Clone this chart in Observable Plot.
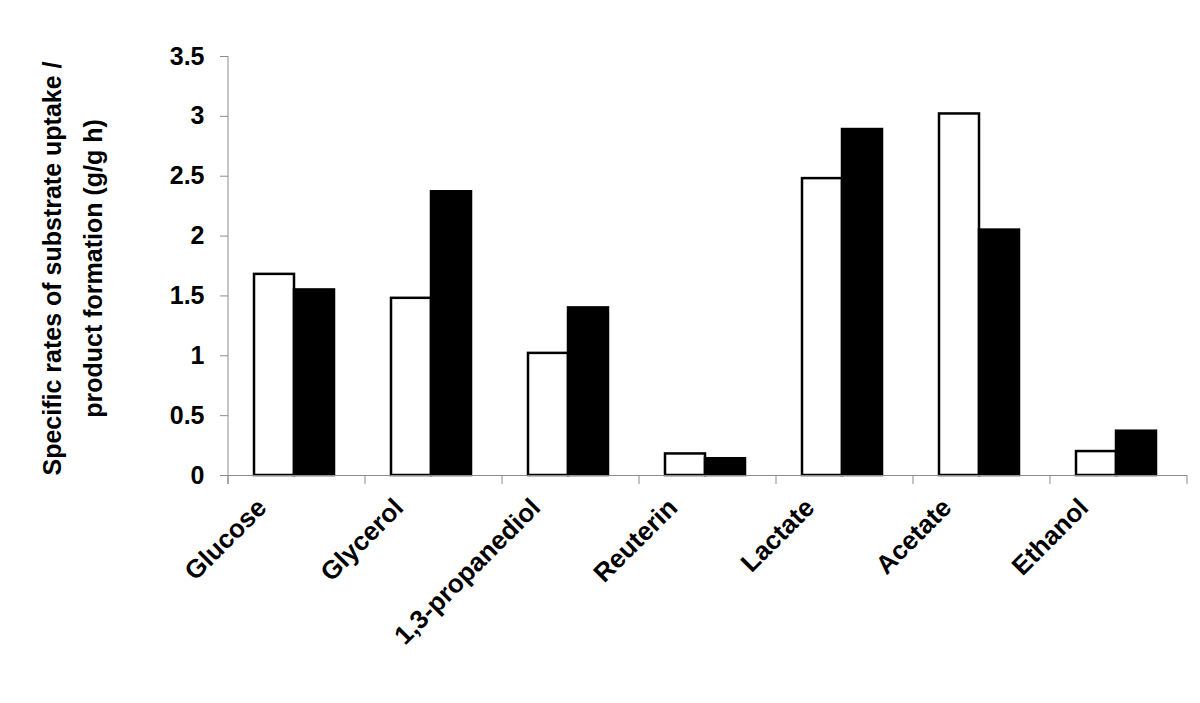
<!DOCTYPE html>
<html>
<head>
<meta charset="utf-8">
<script src="https://cdn.jsdelivr.net/npm/d3@7"></script>
<script src="https://cdn.jsdelivr.net/npm/@observablehq/plot@0.6"></script>
<style>
  html, body { margin: 0; padding: 0; background: #fff; }
  #chart svg { font-family: "Liberation Sans", Arial, sans-serif; }
  #chart svg text { font-weight: bold; fill: #000; }
</style>
</head>
<body>
<div id="chart"></div>
<script>
// ---- data ----
const categories = ["Glucose", "Glycerol", "1,3-propanediol", "Reuterin", "Lactate", "Acetate", "Ethanol"];
const seriesNames = ["Series 1", "Series 2"];
const series1 = [1.68, 1.48, 1.02, 0.18, 2.48, 3.02, 0.20];
const series2 = [1.55, 2.37, 1.40, 0.14, 2.89, 2.05, 0.37];
const seriesFill = ["#ffffff", "#000000"];
const yTicks = [0, 0.5, 1, 1.5, 2, 2.5, 3, 3.5];
const yLabelLines = ["Specific rates of substrate uptake /", "product formation (g/g h)"];

const rows = [];
categories.forEach((c, i) => {
  rows.push({cat: c, series: seriesNames[0], value: series1[i]});
  rows.push({cat: c, series: seriesNames[1], value: series2[i]});
});

const W = 1200, H = 703;
const mL = 227, mR = 12, mT = 56, mB = 228;
const axisGray = "#8c8c8c";

const plot = Plot.plot({
  width: W,
  height: H,
  marginLeft: mL,
  marginRight: mR,
  marginTop: mT,
  marginBottom: mB,
  style: {fontSize: "25px", fontFamily: "Liberation Sans, Arial, sans-serif", background: "#fff"},
  fx: {domain: categories, padding: 0, label: null},
  x: {domain: seriesNames, paddingInner: 0, paddingOuter: 0.68, align: 0.45, axis: null},
  y: {domain: [0, 3.5], axis: null},
  color: {domain: seriesNames, range: seriesFill},
  marks: [
    Plot.axisY({
      ticks: yTicks,
      tickFormat: d => String(d),
      tickSize: 8,
      tickPadding: 16,
      stroke: axisGray,
      fontSize: 25,
      label: null
    }),
    Plot.barY(rows, {
      fx: "cat",
      x: "series",
      y: "value",
      fill: "series",
      stroke: "#000",
      strokeWidth: 2.5,
      strokeLinejoin: "miter"
    }),
    Plot.ruleY([0], {stroke: axisGray, strokeWidth: 1}),
    Plot.axisFx({
      anchor: "bottom",
      tickSize: 0,
      tickRotate: -45,
      fontSize: 26,
      dx: -35,
      dy: 16,
      label: null
    })
  ]
});

// y axis line and category-boundary tick marks, positioned from Plot's own scales
const svg = d3.select(plot);
const fx = plot.scale("fx");
const y = plot.scale("y");
const y0 = y.apply(0), yTop = y.apply(3.5);
const x0 = fx.apply(categories[0]);
svg.append("line")
  .attr("x1", x0).attr("x2", x0).attr("y1", yTop).attr("y2", y0 + 9)
  .attr("stroke", axisGray);
const bounds = categories.map(c => fx.apply(c));
bounds.push(fx.apply(categories[categories.length - 1]) + fx.bandwidth);
svg.append("g").selectAll("line").data(bounds).join("line")
  .attr("x1", d => d).attr("x2", d => d)
  .attr("y1", y0).attr("y2", y0 + 9)
  .attr("stroke", axisGray);

// y axis title (two lines)
const cy = (y0 + yTop) / 2 + 3;
const title = svg.append("text")
  .attr("transform", `translate(${52},${cy}) rotate(-90)`)
  .attr("text-anchor", "middle")
  .style("font-size", "25px")
  .style("font-weight", "bold");
title.append("tspan").attr("x", 0).attr("dy", "0.35em").text(yLabelLines[0]);
title.append("tspan").attr("x", 0).attr("dy", "41px").text(yLabelLines[1]);

document.getElementById("chart").appendChild(plot);
</script>
</body>
</html>
